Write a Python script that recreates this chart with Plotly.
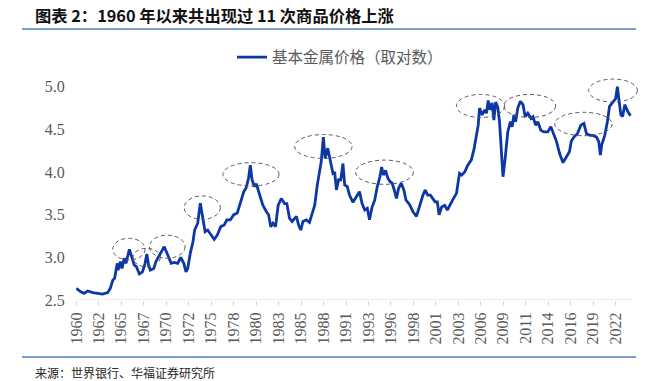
import plotly.graph_objects as go

# ---------------- data ----------------
years = [
    1960.0, 1960.5, 1960.9, 1961.3, 1961.9, 1962.45, 1963.0, 1963.6, 1963.9, 1964.2,
    1964.4, 1964.7, 1964.8, 1965.05, 1965.25, 1965.5, 1965.7, 1966.1, 1966.35, 1966.65,
    1966.9, 1967.25, 1967.6, 1967.9, 1968.1, 1968.3, 1968.5, 1968.9, 1969.15, 1969.55,
    1970.1, 1970.5, 1970.9, 1971.25, 1971.65, 1972.0, 1972.35, 1972.6, 1972.8, 1973.1,
    1973.4, 1973.6, 1973.95, 1974.25, 1974.5, 1974.8, 1975.1, 1975.5, 1975.85, 1976.2,
    1976.6, 1977.0, 1977.3, 1977.7, 1978.1, 1978.5, 1978.75, 1979.0, 1979.25, 1979.5,
    1979.8, 1980.0, 1980.2, 1980.45, 1980.7, 1981.2, 1981.45, 1981.85, 1982.1, 1982.35,
    1982.6, 1982.9, 1983.2, 1983.55, 1983.95, 1984.2, 1984.5, 1984.8, 1985.0, 1985.3,
    1985.55, 1985.8, 1986.05, 1986.45, 1986.8, 1987.1, 1987.4, 1987.7, 1987.95, 1988.15,
    1988.4, 1988.6, 1988.9, 1989.2, 1989.5, 1989.7, 1989.9, 1990.15, 1990.4, 1990.65,
    1990.85, 1991.15, 1991.4, 1991.8, 1992.2, 1992.55, 1992.85, 1993.15, 1993.45, 1993.7,
    1994.0, 1994.3, 1994.6, 1994.9, 1995.1, 1995.3, 1995.55, 1995.8, 1996.05, 1996.3,
    1996.55, 1996.8, 1997.05, 1997.35, 1997.65, 1997.9, 1998.3, 1998.7, 1999.1, 1999.45,
    1999.85, 2000.1, 2000.4, 2000.7, 2000.95, 2001.25, 2001.5, 2001.7, 2002.0, 2002.35,
    2002.65, 2002.9, 2003.3, 2003.7, 2004.05, 2004.3, 2004.65, 2005.0, 2005.4, 2005.7,
    2006.0, 2006.2, 2006.35, 2006.65, 2006.95, 2007.15, 2007.35, 2007.55, 2007.8, 2008.0,
    2008.2, 2008.45, 2008.65, 2008.85, 2009.05, 2009.3, 2009.6, 2009.9, 2010.1, 2010.3,
    2010.5, 2010.75, 2011.05, 2011.35, 2011.6, 2011.9, 2012.25, 2012.5, 2012.8, 2013.05,
    2013.4, 2013.75, 2014.2, 2014.55, 2014.9, 2015.2, 2015.55, 2015.95, 2016.35, 2016.7,
    2016.9, 2017.2, 2017.6, 2018.0, 2018.35, 2018.65, 2019.05, 2019.4, 2019.8, 2020.05,
    2020.25, 2020.4, 2020.75, 2021.05, 2021.3, 2021.7, 2022.0, 2022.2, 2022.4, 2022.6,
    2022.8, 2023.05, 2023.4, 2023.7,
]
values = [
    2.637, 2.597, 2.578, 2.606, 2.586, 2.578, 2.570, 2.586, 2.637, 2.734,
    2.754, 2.93, 2.85, 2.95, 2.87, 2.99, 2.93, 3.094, 3.008, 2.91,
    2.89, 2.805, 2.83, 2.93, 3.04, 2.91, 2.85, 2.87, 2.95, 3.03,
    3.125, 3.03, 2.93, 2.94, 2.93, 3.0, 2.93, 2.83, 2.87, 3.05,
    3.18, 3.32, 3.40, 3.634, 3.457, 3.30, 3.32, 3.26, 3.21, 3.26,
    3.36, 3.38, 3.44, 3.44, 3.50, 3.52, 3.60, 3.67, 3.77, 3.81,
    3.93, 4.08, 3.91, 3.83, 3.86, 3.69, 3.61, 3.535, 3.50, 3.36,
    3.40, 3.36, 3.61, 3.69, 3.63, 3.63, 3.46, 3.42, 3.45, 3.48,
    3.38, 3.32, 3.42, 3.44, 3.41, 3.50, 3.61, 3.85, 3.985, 4.12,
    4.41, 4.16, 4.28, 4.14, 3.985, 4.0, 3.79, 3.91, 3.91, 4.10,
    3.85, 3.83, 3.73, 3.645, 3.71, 3.77, 3.63, 3.555, 3.575, 3.44,
    3.59, 3.67, 3.83, 3.945, 4.06, 3.965, 4.02, 3.93, 3.89, 3.87,
    3.79, 3.69, 3.81, 3.87, 3.79, 3.67, 3.62, 3.535, 3.48, 3.61,
    3.73, 3.79, 3.73, 3.73, 3.69, 3.65, 3.65, 3.50, 3.59, 3.61,
    3.555, 3.61, 3.68, 3.75, 3.985, 3.965, 4.0, 4.08, 4.14, 4.26,
    4.41, 4.55, 4.75, 4.67, 4.73, 4.69, 4.84, 4.73, 4.81, 4.61,
    4.82, 4.76, 4.59, 4.24, 3.945, 4.16, 4.47, 4.59, 4.53, 4.67,
    4.59, 4.75, 4.83, 4.79, 4.65, 4.69, 4.63, 4.65, 4.55, 4.59,
    4.49, 4.47, 4.47, 4.53, 4.45, 4.36, 4.22, 4.11, 4.18, 4.24,
    4.36, 4.41, 4.45, 4.55, 4.57, 4.45, 4.43, 4.43, 4.41, 4.36,
    4.20, 4.32, 4.43, 4.59, 4.77, 4.82, 4.86, 5.0, 4.82, 4.67,
    4.65, 4.79, 4.71, 4.66,
]
tick_labels = ["1960", "1962", "1965", "1967", "1970", "1972", "1975", "1978", "1980",
               "1983", "1985", "1988", "1991", "1993", "1996", "1998", "2001", "2003",
               "2006", "2009", "2011", "2014", "2016", "2019", "2022"]
y_ticks = [2.5, 3.0, 3.5, 4.0, 4.5, 5.0]

# eleven rally episodes (dashed ellipses): year span and value span
ell_x0 = [1964.19, 1966.5, 1968.4, 1972.4, 1976.85, 1985.1, 1992.1, 2003.7, 2009.15, 2015.0, 2018.9]
ell_x1 = [1967.9, 1969.65, 1972.5, 1976.55, 1983.3, 1991.7, 1998.75, 2009.25, 2015.1, 2021.6, 2024.5]
ell_y0 = [2.969, 2.89, 2.99, 3.446, 3.836, 4.16, 3.856, 4.64, 4.64, 4.426, 4.82]
ell_y1 = [3.223, 3.106, 3.26, 3.72, 4.11, 4.44, 4.14, 4.91, 4.91, 4.70, 5.09]

title_text = "图表 2：1960 年以来共出现过 11 次商品价格上涨"
series_name = "基本金属价格（取对数）"
source_text = "来源：世界银行、华福证券研究所"

# ---------------- layout geometry ----------------
W, H = 651, 381
L, T = 76, 77
pw, ph = 563, 223
R = W - L - pw
B = H - T - ph
PX_PER_YEAR = 8.698
PX_PER_UNIT = 85.3
x_min = 1960 - 0.5 / 12
x_max = x_min + pw / PX_PER_YEAR
y_min = 2.5
y_max = y_min + ph / PX_PER_UNIT
tickvals = [1960 + k * 31 / 12 for k in range(len(tick_labels))]


def pxx(px):  # page pixel -> paper x
    return (px - L) / pw


def pxy(py):  # page pixel -> paper y
    return (T + ph - py) / ph


LINE_COLOR = "#0d37a6"
GREY = "#595959"
CJK = "Noto Sans CJK SC"
SERIF = "Liberation Serif"

fig = go.Figure()
fig.add_trace(go.Scatter(
    x=years, y=values, mode="lines", name=series_name,
    line=dict(color=LINE_COLOR, width=2.8),
))

shapes = []
for x0, x1, y0, y1 in zip(ell_x0, ell_x1, ell_y0, ell_y1):
    shapes.append(dict(type="circle", xref="x", yref="y", x0=x0, x1=x1, y0=y0, y1=y1,
                       line=dict(color=GREY, width=1, dash="4px,3px"), layer="above"))
# x-axis baseline (end of data + half month)
shapes.append(dict(type="line", xref="x", yref="y", x0=x_min, x1=years[-1] + 1 / 24,
                   y0=y_min, y1=y_min, line=dict(color="#d9d9d9", width=1), layer="below"))
# header / footer rules
shapes.append(dict(type="line", xref="paper", yref="paper", x0=pxx(22), x1=pxx(636),
                   y0=pxy(29), y1=pxy(29), line=dict(color="#4f7fbf", width=1.3)))
shapes.append(dict(type="line", xref="paper", yref="paper", x0=pxx(22), x1=pxx(636),
                   y0=pxy(357), y1=pxy(357), line=dict(color="#4f7fbf", width=1.3)))

annotations = [
    dict(text="<b>" + title_text + "</b>", xref="paper", yref="paper", x=pxx(33), y=pxy(15),
         xanchor="left", yanchor="middle", showarrow=False,
         font=dict(family=CJK, size=16.3, color="#111111")),
    dict(text=source_text, xref="paper", yref="paper", x=pxx(33), y=pxy(372),
         xanchor="left", yanchor="middle", showarrow=False,
         font=dict(family=CJK, size=12, color="#262626")),
]

fig.update_layout(
    width=W, height=H,
    margin=dict(l=L, r=R, t=T, b=B, pad=0),
    paper_bgcolor="white", plot_bgcolor="white",
    shapes=shapes, annotations=annotations,
    showlegend=True,
    legend=dict(x=pxx(232), y=pxy(57.5), xanchor="left", yanchor="middle",
                orientation="h", bgcolor="rgba(0,0,0,0)",
                font=dict(family=CJK, size=15.5, color=GREY)),
    xaxis=dict(range=[x_min, x_max], tickmode="array", tickvals=tickvals, ticktext=tick_labels,
               tickangle=-90, ticks="outside", ticklen=5, tickcolor="#d9d9d9",
               showline=False, showgrid=False, zeroline=False,
               tickfont=dict(family=SERIF, size=16, color=GREY)),
    yaxis=dict(range=[y_min, y_max], tickmode="array", tickvals=y_ticks, tickformat=".1f",
               ticks="outside", ticklen=7, tickcolor="rgba(0,0,0,0)",
               showline=False, showgrid=False, zeroline=False,
               tickfont=dict(family=SERIF, size=16, color=GREY)),
)

# remove the browser's default 8px body margin so the figure fills the window exactly
fig.write_html("out.html", config={"displayModeBar": False},
               post_script="document.body.style.margin='0';")
